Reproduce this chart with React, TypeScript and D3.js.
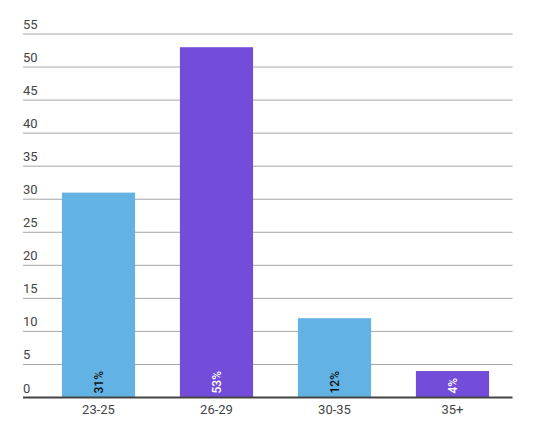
import React from "react";
import * as d3 from "d3";

const categories = ["23-25", "26-29", "30-35", "35+"];
const values = [31, 53, 12, 4];
const barLabels = ["31%", "53%", "12%", "4%"];
const yTicks = [0, 5, 10, 15, 20, 25, 30, 35, 40, 45, 50, 55];
const barColors = ["#62B2E4", "#734CD9", "#62B2E4", "#734CD9"];
const labelColors = ["#111", "#fff", "#111", "#fff"];

export default function App() {
  const W = 534, H = 437;
  const gridLeft = 23, gridRight = 512.5;
  const y = d3.scaleLinear().domain([0, 55]).range([397.5, 34]);
  const x = d3.scaleBand<string>().domain(categories).range([39.5, 511.5]).paddingInner(0.38).paddingOuter(0.19);
  const font = "Roboto, 'Noto Sans', sans-serif";
  return (
    <svg width={W} height={H} style={{ position: "absolute", left: 0, top: 0, background: "#fff" }}>
      {yTicks.map((t) => (
        <g key={t}>
          {t > 0 && <line x1={gridLeft} x2={gridRight} y1={y(t)} y2={y(t)} stroke="#a6a6a6" strokeWidth={1} />}
          <text x={gridLeft} y={y(t) - 5} fontSize={13} fill="#444" fontFamily={font}>{t}</text>
        </g>
      ))}
      {categories.map((c, i) => (
        <rect key={c} x={x(c)} width={x.bandwidth()} y={y(values[i])} height={y(0) - y(values[i])} fill={barColors[i]} />
      ))}
      <line x1={gridLeft} x2={gridRight} y1={y(0)} y2={y(0)} stroke="#444" strokeWidth={2} />
      {categories.map((c, i) => {
        const cx = (x(c) as number) + x.bandwidth() / 2;
        return (
          <text key={c} transform={`translate(${cx + 4.5},${y(0) - 4}) rotate(-90)`} fontSize={12} fontWeight={500} fill={labelColors[i]} fontFamily={font}>
            {barLabels[i]}
          </text>
        );
      })}
      {categories.map((c) => (
        <text key={c} x={(x(c) as number) + x.bandwidth() / 2} y={414} textAnchor="middle" fontSize={13} fill="#444" fontFamily={font}>
          {c}
        </text>
      ))}
    </svg>
  );
}
